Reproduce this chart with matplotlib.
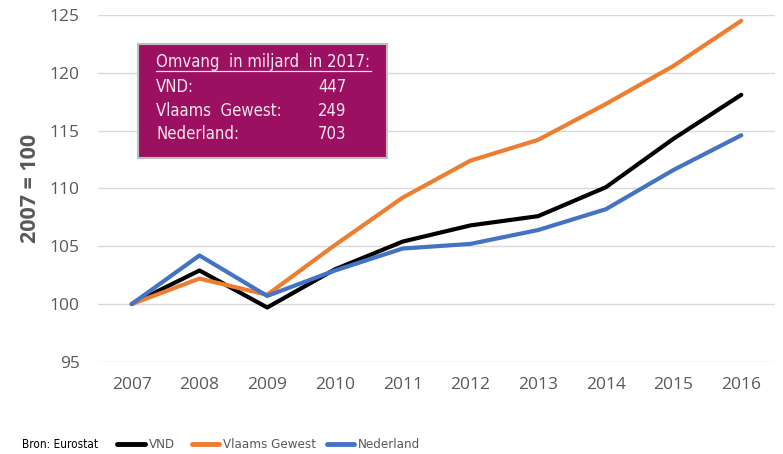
import matplotlib
matplotlib.use("Agg")
import matplotlib.pyplot as plt
from matplotlib import font_manager as fm
from matplotlib.patches import Rectangle
from matplotlib.lines import Line2D

years = ["2007", "2008", "2009", "2010", "2011", "2012", "2013", "2014", "2015", "2016"]
vnd = [100, 102.9, 99.7, 103.0, 105.4, 106.8, 107.6, 110.1, 114.3, 118.1]
vlaams = [100, 102.2, 100.8, 105.1, 109.2, 112.4, 114.2, 117.3, 120.6, 124.5]
nederland = [100, 104.2, 100.7, 102.9, 104.8, 105.2, 106.4, 108.2, 111.6, 114.6]
series_names = ["VND", "Vlaams Gewest", "Nederland"]
box_title = "Omvang  in miljard  in 2017:"
box_labels = ["VND:", "Vlaams  Gewest:", "Nederland:"]
box_values = ["447", "249", "703"]

# pick a narrow font if one is installed
narrow_fp = None
for f in fm.fontManager.ttflist:
    fn = f.fname.lower()
    if "narrow" in fn or "condensed" in fn:
        if "bold" not in fn and "italic" not in fn and "oblique" not in fn:
            if "mono" not in fn and "serif" not in fn.replace("sans", ""):
                narrow_fp = fm.FontProperties(fname=f.fname)
                break
if narrow_fp is None:
    narrow_fp = fm.FontProperties(family="Liberation Sans")
    nscale = 0.88
else:
    nscale = 1.0

tickfont = "Open Sans"

fig = plt.figure(figsize=(7.83, 4.54), dpi=100)
ax = fig.add_axes([0.125, 0.203, 0.865, 0.764])

x = list(range(len(years)))
kw = dict(lw=3, solid_joinstyle="round", solid_capstyle="round")
ax.plot(x, vnd, color="#000000", zorder=3, **kw)
ax.plot(x, vlaams, color="#ED7D31", zorder=4, **kw)
ax.plot(x, nederland, color="#4472C4", zorder=5, **kw)

ax.set_xlim(-0.5, len(years) - 0.5)
ax.set_ylim(95, 125)
ax.set_yticks(range(95, 126, 5))
ax.set_xticks(x)
ax.set_xticklabels(years)
ax.grid(axis="y", color="#D9D9D9", lw=1)
ax.set_axisbelow(True)
for s in ax.spines.values():
    s.set_visible(False)
ax.tick_params(length=0, labelsize=12.5, labelcolor="#595959")
ax.tick_params(axis="x", pad=11)
ax.tick_params(axis="y", pad=13)
for lab in ax.get_xticklabels() + ax.get_yticklabels():
    lab.set_fontfamily(tickfont)
ax.set_ylabel("2007 = 100", fontsize=15.5, color="#595959", fontfamily=tickfont,
              fontweight="bold", labelpad=6)

# info box
box = Rectangle((138 / 783, 1 - 158 / 454), (387 - 138) / 783, (158 - 44) / 454,
                transform=fig.transFigure, facecolor="#9B1060", edgecolor="#BFBFBF", lw=1.5, zorder=10)
fig.patches.append(box)
tc = "#F4E6EE"
fs_box = 12 * nscale
fig.text(156 / 783, 1 - 67 / 454, box_title, fontsize=fs_box, color=tc,
         fontproperties=narrow_fp, va="baseline", zorder=11)
fig.add_artist(Line2D([156 / 783, 371 / 783], [1 - 71 / 454, 1 - 71 / 454],
                      transform=fig.transFigure, color=tc, lw=0.9, zorder=11))
for i, (lab, val) in enumerate(zip(box_labels, box_values)):
    yb = 1 - (92 + i * 23.5) / 454
    fig.text(156 / 783, yb, lab, fontsize=fs_box, color=tc, fontproperties=narrow_fp, va="baseline", zorder=11)
    fig.text(318 / 783, yb, val, fontsize=fs_box, color=tc, fontproperties=narrow_fp, va="baseline", zorder=11)

# bottom legend
fig.text(22 / 783, 1 - 444 / 454, "Bron: Eurostat", fontsize=8.5 * nscale, color="#000000",
         fontproperties=narrow_fp, va="center")
leg_items = [(117, 145, "#000000", series_names[0]), (192, 219, "#ED7D31", series_names[1]),
             (327, 354, "#4472C4", series_names[2])]
for x0, x1, c, t in leg_items:
    fig.add_artist(Line2D([x0 / 783, x1 / 783], [1 - 444 / 454] * 2,
                          transform=fig.transFigure, color=c, lw=3.5, solid_capstyle="round"))
    fig.text((x1 + 4) / 783, 1 - 445 / 454, t, fontsize=9.5 * nscale, color="#595959",
             fontproperties=narrow_fp, va="center")

fig.savefig("out.png", dpi=100)
